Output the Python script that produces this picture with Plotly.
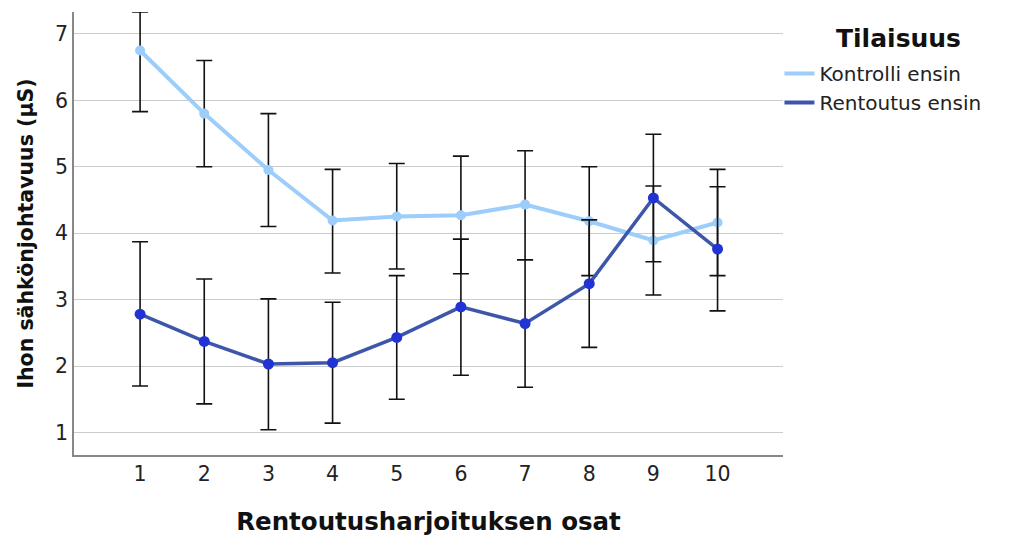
import plotly.graph_objects as go

# Session parts of the relaxation exercise
osat = [1, 2, 3, 4, 5, 6, 7, 8, 9, 10]
tick_labels = ["1", "2", "3", "4", "5", "6", "7", "8", "9", "10"]

# Mean skin conductance (µS) and 95% CI bounds per group
kontrolli_ka = [6.75, 5.80, 4.95, 4.19, 4.25, 4.27, 4.43, 4.18, 3.89, 4.16]
kontrolli_yla = [7.33, 6.60, 5.80, 4.96, 5.05, 5.16, 5.24, 5.00, 4.71, 4.96]
kontrolli_ala = [5.83, 5.00, 4.10, 3.40, 3.46, 3.39, 3.60, 3.36, 3.07, 3.36]

rentoutus_ka = [2.78, 2.37, 2.03, 2.05, 2.43, 2.89, 2.64, 3.24, 4.53, 3.76]
rentoutus_yla = [3.87, 3.31, 3.01, 2.96, 3.36, 3.91, 3.60, 4.20, 5.49, 4.70]
rentoutus_ala = [1.70, 1.43, 1.04, 1.14, 1.50, 1.86, 1.68, 2.28, 3.57, 2.83]

FONT = "DejaVu Sans"
VAALEA = "#9dcdfa"
TUMMA_VIIVA = "#3d56aa"
TUMMA_PISTE = "#2233d4"


def err(ka, yla, ala):
    return dict(
        type="data",
        symmetric=False,
        array=[u - m for u, m in zip(yla, ka)],
        arrayminus=[m - l for m, l in zip(ka, ala)],
        color="#111111",
        thickness=1.6,
        width=8,
    )


fig = go.Figure()
fig.add_trace(go.Scatter(
    x=osat, y=kontrolli_ka, mode="lines+markers", name="Kontrolli ensin",
    line=dict(color=VAALEA, width=4),
    marker=dict(color=VAALEA, size=10),
    error_y=err(kontrolli_ka, kontrolli_yla, kontrolli_ala),
    showlegend=False,
))
fig.add_trace(go.Scatter(
    x=osat, y=rentoutus_ka, mode="lines+markers", name="Rentoutus ensin",
    line=dict(color=TUMMA_VIIVA, width=3.5),
    marker=dict(color=TUMMA_PISTE, size=11),
    error_y=err(rentoutus_ka, rentoutus_yla, rentoutus_ala),
    showlegend=False,
))
# Line-only legend entries
fig.add_trace(go.Scatter(x=[None], y=[None], mode="lines", name="Kontrolli ensin",
                         line=dict(color=VAALEA, width=4)))
fig.add_trace(go.Scatter(x=[None], y=[None], mode="lines", name="Rentoutus ensin",
                         line=dict(color=TUMMA_VIIVA, width=4)))

fig.update_layout(
    width=1009, height=543,
    margin=dict(l=74, r=226, t=12, b=86),
    paper_bgcolor="white", plot_bgcolor="white",
    font=dict(family=FONT, color="#222222"),
    legend=dict(
        x=0.995, xanchor="left", y=0.905, yanchor="top",
        font=dict(size=20, color="#222222"),
        tracegroupgap=0, itemwidth=30,
        bgcolor="rgba(0,0,0,0)",
    ),
    showlegend=True,
    annotations=[dict(
        text="<b>Tilaisuus</b>", xref="paper", yref="paper",
        x=1.163, y=1.0, xanchor="center", yanchor="middle",
        yshift=-26, showarrow=False,
        font=dict(size=25, color="#111111"),
    )],
)
fig.update_xaxes(
    range=[-0.03, 11.02], tickmode="array", tickvals=osat, ticktext=tick_labels,
    showgrid=False, showline=True, linecolor="#888888", linewidth=1.5,
    ticks="", tickfont=dict(size=20.5, color="#222222"), zeroline=False,
    title=dict(text="<b>Rentoutusharjoituksen osat</b>", font=dict(size=24.5, color="#111111"),
               standoff=28),
)
fig.update_yaxes(
    range=[0.66, 7.33], tickvals=[1, 2, 3, 4, 5, 6, 7],
    showgrid=True, gridcolor="#cccccc", gridwidth=1.3,
    showline=True, linecolor="#888888", linewidth=1.5,
    ticks="", tickfont=dict(size=20.5, color="#222222"), zeroline=False,
    title=dict(text="<b>Ihon sähkönjohtavuus (µS)</b>", font=dict(size=20.5, color="#111111"),
               standoff=16),
)

fig.write_html("out.html")
